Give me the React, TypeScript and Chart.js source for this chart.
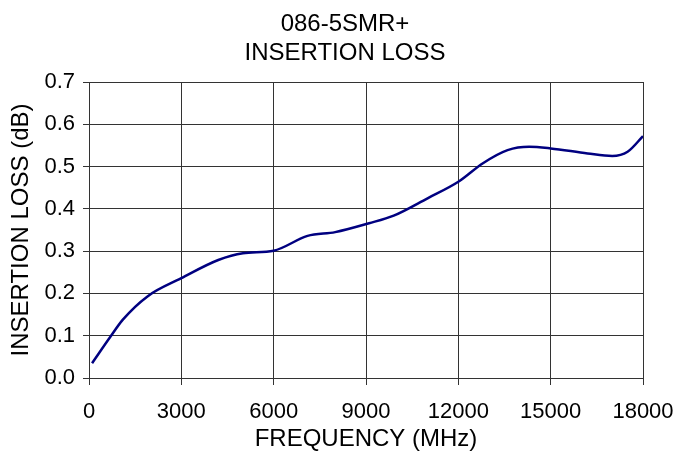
import React, { useEffect, useRef } from "react";
import { Chart, registerables } from "chart.js";

Chart.register(...registerables);

const titleLines = ["086-5SMR+", "INSERTION LOSS"];
const xTitle = "FREQUENCY (MHz)";
const yTitle = "INSERTION LOSS (dB)";

const frequencyMHz = [100, 700, 1100, 1900, 3000, 4200, 5000, 6000, 7100, 8000, 9100, 9900, 11000, 12000, 12800, 13600, 14300, 15000, 16200, 17000, 17500, 18000];
const insertionLossDb = [0.035, 0.098, 0.138, 0.193, 0.236, 0.279, 0.295, 0.301, 0.336, 0.345, 0.366, 0.384, 0.425, 0.464, 0.508, 0.539, 0.547, 0.543, 0.531, 0.525, 0.535, 0.572];

const xMin = 0;
const xMax = 18000;
const xStep = 3000;
const yMin = 0;
const yMax = 0.7;
const yStep = 0.1;

const FONT = "'Liberation Sans', Arial, sans-serif";

export default function App() {
  const ref = useRef<HTMLCanvasElement | null>(null);

  useEffect(() => {
    if (!ref.current) return;
    const textPlugin = {
      id: "texts",
      afterDraw(chart: any) {
        const ctx = chart.ctx;
        ctx.save();
        ctx.fillStyle = "#000";
        ctx.font = `24px ${FONT}`;
        ctx.textAlign = "center";
        ctx.textBaseline = "alphabetic";
        ctx.fillText(titleLines[0], 345, 31);
        ctx.fillText(titleLines[1], 345, 60);
        const area = chart.chartArea;
        ctx.fillText(xTitle, (area.left + area.right) / 2, 446);
        ctx.translate(28, (area.top + area.bottom) / 2);
        ctx.rotate(-Math.PI / 2);
        ctx.fillText(yTitle, 0, 0);
        ctx.restore();
      },
    };
    const chart = new Chart(ref.current, {
      type: "line",
      data: {
        datasets: [
          {
            data: frequencyMHz.map((f, i) => ({ x: f, y: insertionLossDb[i] })),
            borderColor: "#000080",
            borderWidth: 2.5,
            pointRadius: 0,
            fill: false,
            cubicInterpolationMode: "monotone",
          },
        ],
      },
      options: {
        responsive: false,
        animation: false,
        layout: { padding: { top: 82, right: 33, left: 0, bottom: 0 } },
        plugins: { legend: { display: false }, title: { display: false }, tooltip: { enabled: false } },
        scales: {
          x: {
            type: "linear",
            min: xMin,
            max: xMax,
            afterFit: (s: any) => {
              s.height = 75;
              s.paddingLeft = 0;
              s.paddingRight = 0;
            },
            ticks: {
              stepSize: xStep,
              color: "#000",
              font: { family: FONT, size: 22 },
              padding: 14,
              maxRotation: 0,
              callback: (v: any) => String(v),
            },
            grid: { color: "#333", lineWidth: 1, tickLength: 7, drawTicks: true },
            border: { color: "#333", width: 1 },
          },
          y: {
            min: yMin,
            max: yMax,
            afterFit: (s: any) => {
              s.width = 89;
              s.paddingTop = 0;
              s.paddingBottom = 0;
            },
            ticks: {
              stepSize: yStep,
              color: "#000",
              font: { family: FONT, size: 22 },
              padding: 8,
              callback: (v: any) => Number(v).toFixed(1),
            },
            grid: { color: "#333", lineWidth: 1, tickLength: 6 },
            border: { color: "#333", width: 1 },
          },
        },
      },
      plugins: [textPlugin],
    } as any);
    return () => chart.destroy();
  }, []);

  return (
    <div style={{ position: "absolute", left: 0, top: 0, width: 676, height: 453, background: "#fff" }}>
      <canvas ref={ref} width={676} height={453} />
    </div>
  );
}
